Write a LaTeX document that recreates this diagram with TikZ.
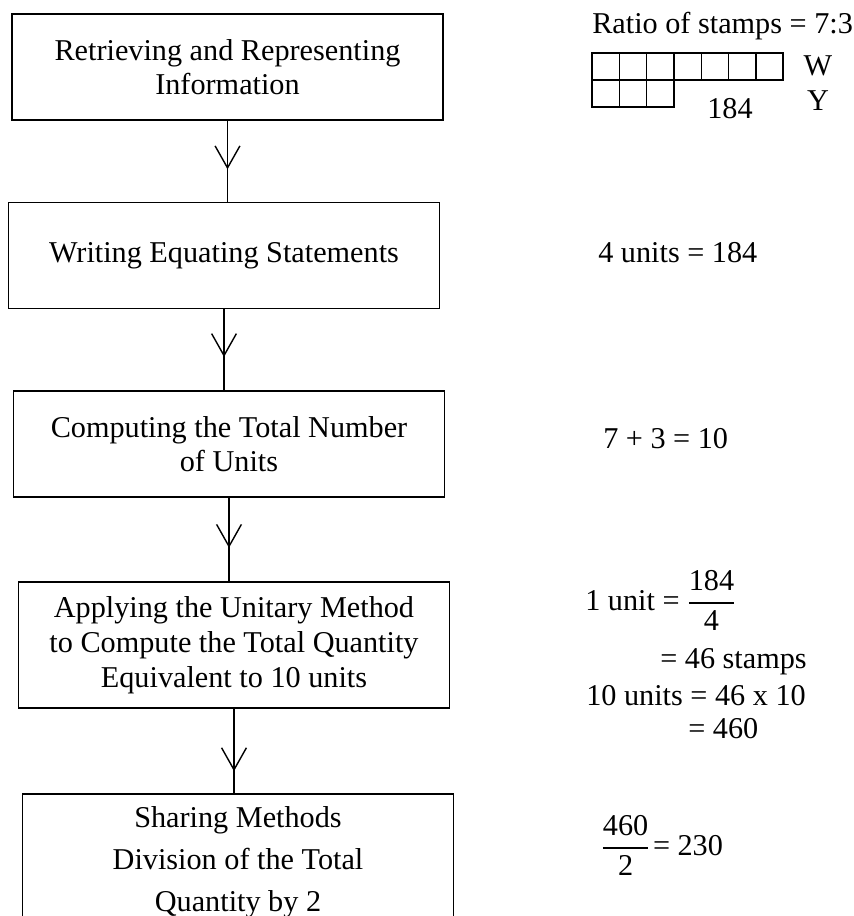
\documentclass[tikz,border=0pt]{standalone}
\usepackage{amsmath}
\usepackage{fontspec}
\setmainfont{Liberation Serif}
\usepackage{tikz}
\usetikzlibrary{arrows.meta, decorations.markings}

\newcommand{\sfrac}[2]{\genfrac{}{}{1.2pt}{0}{\mbox{#1}}{\mbox{#2}}}

\begin{document}
\begin{tikzpicture}[x=0.025cm, y=-0.025cm,
        every node/.style={font=\fontsize{21.5}{24}\selectfont},
        stage/.style={draw, line width=1.2pt, minimum width=10.775cm, minimum height=2.65cm, align=center, inner sep=0pt},
        work/.style={inner sep=0pt, anchor=base west},
        letter/.style={inner sep=0pt, anchor=base},
        flow/.style={line width=1pt, postaction={decorate},
            decoration={markings, mark=at position #1 with {\arrow[line width=1pt]{Straight Barb[length=0.55cm, width=0.62cm]}}}}]
        \useasboundingbox (0,0) rectangle (854,916);

        \begin{scope}
        \clip (0,0) rectangle (854,916);
        \node[stage] (retrieve) at (227.5,67)  {Retrieving and Representing\\Information};   %step 1
        \node[stage] (equate)   at (224,255.5) {Writing Equating Statements};               %step 2
        \node[stage] (count)    at (229,444)   {Computing the Total Number\\of Units};      %step 3
        \node[stage, minimum height=3.15cm, font=\fontsize{21.5}{25}\selectfont] (unitary) at (234,645)
            {Applying the Unitary Method\\to Compute the Total Quantity\\Equivalent to 10 units};  %step 4
        \node[stage, minimum height=3.4cm, font=\fontsize{21.5}{30}\selectfont] (share) at (238,862)
            {Sharing Methods\\Division of the Total\\Quantity by 2};                         %step 5
        \end{scope}

        \draw[flow=0.6]  (retrieve.south) -- (retrieve.south |- equate.north);
        \draw[flow=0.59] (equate.south)   -- (equate.south |- count.north);
        \draw[flow=0.6]  (count.south)    -- (count.south |- unitary.north);
        \draw[flow=0.74] (unitary.south)  -- (unitary.south |- share.north);

        % bar model
        \foreach \i in {0,...,6} \draw[line width=1pt] (592+27.3*\i,53) rectangle ++(27.3,27);  %W row
        \foreach \i in {0,1,2}   \draw[line width=1pt] (592+27.3*\i,80) rectangle ++(27.3,27);  %Y row

        \node[work]   (ratio) at (592,33)  {Ratio of stamps = 7:3};
        \node[letter] (w)     at (818,75)  {W};
        \node[letter] (y)     at (818,110) {Y};
        \node[letter] (total) at (730,118) {184};

        \node[work] (fourunits) at (598,262) {4 units = 184};
        \node[work] (addunits)  at (603,448) {7 + 3 = 10};
        \node[work] (oneunit)   at (585,610) {1 unit = $\sfrac{184}{4}$};
        \node[work] (stamps)    at (660,668) {= 46 stamps};
        \node[work] (product)   at (586,705) {10 units = 46 x 10};
        \node[work] (quantity)  at (688,738) {= 460};
        \node[work] (half)      at (601,855) {$\sfrac{460}{2}$\hspace{0.1em}= 230};
\end{tikzpicture}
\end{document}
